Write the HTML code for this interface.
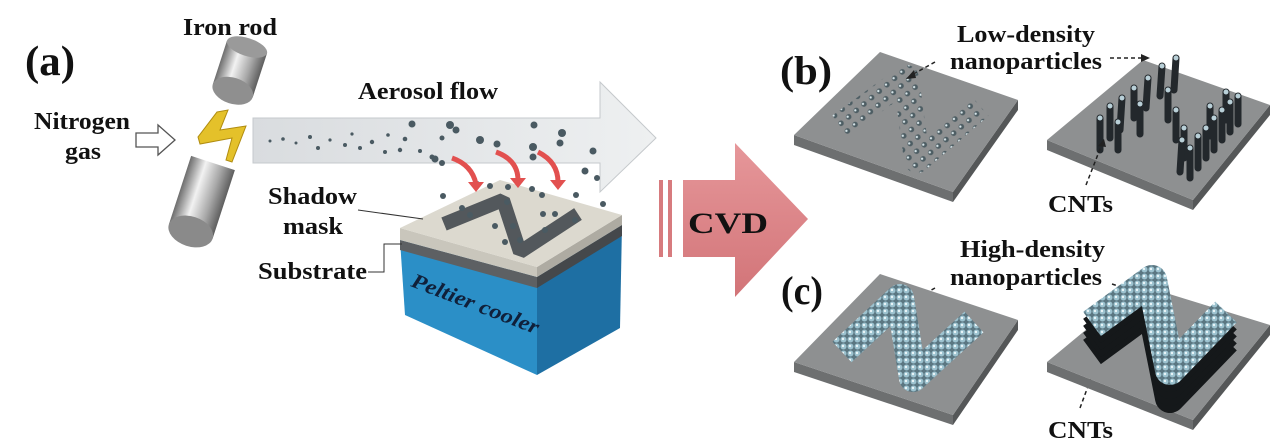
<!DOCTYPE html>
<html><head><meta charset="utf-8"><style>
html,body{margin:0;padding:0;background:#fff;}
svg{display:block;}
text{font-family:"Liberation Serif",serif;font-weight:bold;fill:#111;}
</style></head><body>
<svg width="1280" height="448" viewBox="0 0 1280 448" xmlns="http://www.w3.org/2000/svg">
<defs>
<linearGradient id="cyl" x1="0" x2="1" y1="0" y2="0">
<stop offset="0" stop-color="#6d6d6d"/><stop offset="0.35" stop-color="#f2f2f2"/><stop offset="0.7" stop-color="#a9a9a9"/><stop offset="1" stop-color="#5e5e5e"/></linearGradient>
<linearGradient id="aer" x1="0" x2="1" y1="0" y2="0">
<stop offset="0" stop-color="#d9dcdf"/><stop offset="1" stop-color="#eef0f1"/></linearGradient>
<linearGradient id="cvd" x1="0" x2="0" y1="0" y2="1">
<stop offset="0" stop-color="#e6979a"/><stop offset="1" stop-color="#d27478"/></linearGradient>
<pattern id="dense" width="7" height="7" patternUnits="userSpaceOnUse">
<rect width="7" height="7" fill="#5b7782"/><circle cx="3.5" cy="3.5" r="3" fill="#9cc2cf"/><circle cx="3" cy="3" r="1.2" fill="#eaf5f8"/></pattern>
<pattern id="sparse" width="10" height="10" patternUnits="userSpaceOnUse" patternTransform="rotate(-40)">
<circle cx="5" cy="5" r="2.8" fill="#4d5d63"/><circle cx="4.3" cy="4.3" r="1.2" fill="#d8e6ea"/></pattern>
</defs>

<!-- (a) -->
<text x="25" y="75" font-size="42" textLength="50" lengthAdjust="spacingAndGlyphs">(a)</text>
<text x="183" y="35" font-size="24" textLength="94" lengthAdjust="spacingAndGlyphs">Iron rod</text>
<text x="34" y="129" font-size="24" textLength="96" lengthAdjust="spacingAndGlyphs">Nitrogen</text>
<text x="65" y="159" font-size="24" textLength="36" lengthAdjust="spacingAndGlyphs">gas</text>
<path d="M136,133 H158 V125 L175,140 L158,155 V147 H136 Z" fill="#fff" stroke="#555" stroke-width="1.3"/>

<!-- rods -->
<g transform="translate(247,47) rotate(18)">
<rect x="-21" y="0" width="42" height="46" fill="url(#cyl)"/>
<ellipse cx="0" cy="0" rx="21" ry="9" fill="#9a9a9a"/>
<ellipse cx="0" cy="46" rx="21" ry="13" fill="#8f8f8f"/>
</g>
<g transform="translate(213,163) rotate(18)">
<rect x="-23" y="0" width="46" height="72" fill="url(#cyl)"/>
<ellipse cx="0" cy="72" rx="23" ry="15" fill="#8a8a8a"/>
</g>
<polygon points="217,112 228,110 220,130 246,126 232,162 226,160 232,138 200,144 198,137" fill="#e4c12a" stroke="#b08c10" stroke-width="1"/>

<!-- aerosol arrow -->
<polygon points="253,118 600,118 600,82 656,138 600,192 600,163 253,163" fill="url(#aer)" stroke="#c5c9cc" stroke-width="1"/>
<text x="358" y="99" font-size="24" textLength="140" lengthAdjust="spacingAndGlyphs">Aerosol flow</text>
<g fill="#4a5a62">
<circle cx="270" cy="141" r="1.5"/><circle cx="283" cy="139" r="1.8"/><circle cx="296" cy="143" r="1.5"/><circle cx="310" cy="137" r="2"/><circle cx="318" cy="148" r="2"/><circle cx="330" cy="140" r="1.6"/><circle cx="345" cy="145" r="2"/><circle cx="352" cy="134" r="1.6"/><circle cx="360" cy="148" r="2"/><circle cx="372" cy="142" r="2.2"/><circle cx="385" cy="152" r="2"/><circle cx="388" cy="135" r="1.8"/><circle cx="400" cy="150" r="2.2"/><circle cx="405" cy="139" r="2.3"/><circle cx="420" cy="151" r="2"/><circle cx="432" cy="157" r="2.5"/><circle cx="442" cy="138" r="2.5"/>
<circle cx="412" cy="124" r="3.5"/><circle cx="450" cy="125" r="4"/><circle cx="456" cy="130" r="3.5"/><circle cx="480" cy="140" r="4"/><circle cx="497" cy="144" r="3.5"/><circle cx="534" cy="125" r="3.5"/><circle cx="562" cy="133" r="4"/><circle cx="560" cy="143" r="3.5"/><circle cx="533" cy="147" r="4"/><circle cx="533" cy="157" r="3.5"/><circle cx="593" cy="151" r="3.5"/><circle cx="435" cy="159" r="3.5"/><circle cx="442" cy="163" r="3"/><circle cx="585" cy="171" r="3.5"/><circle cx="597" cy="178" r="3"/>
</g>

<!-- box -->
<polygon points="400,240 537,277 537,375 405,315" fill="#2b8fc7"/>
<polygon points="537,277 622,225 620,328 537,375" fill="#1e6fa3"/>
<polygon points="400,240 537,277 537,288 400,250" fill="#5d6063"/>
<polygon points="537,277 622,225 622,236 537,288" fill="#45484b"/>
<polygon points="400,228 537,267 537,277 400,240" fill="#c9c6bc"/>
<polygon points="537,267 622,215 622,225 537,277" fill="#aeaba2"/>
<polygon points="400,228 500,180 622,215 537,267" fill="#dcd9cf"/>
<polyline points="444,224 503,200 520,252 578,214" fill="none" stroke="#53585c" stroke-width="14" stroke-linejoin="bevel"/>
<g fill="#4a5a62">
<circle cx="462" cy="208" r="3"/><circle cx="470" cy="215" r="3"/><circle cx="507" cy="202" r="3"/><circle cx="513" cy="226" r="3"/><circle cx="495" cy="226" r="3"/><circle cx="520" cy="240" r="3"/><circle cx="505" cy="242" r="3"/><circle cx="545" cy="230" r="3"/><circle cx="575" cy="220" r="3"/><circle cx="543" cy="214" r="3"/><circle cx="542" cy="195" r="3"/><circle cx="555" cy="214" r="3"/><circle cx="443" cy="196" r="3"/><circle cx="490" cy="186" r="3"/><circle cx="508" cy="187" r="3"/><circle cx="532" cy="189" r="3"/><circle cx="576" cy="195" r="3"/><circle cx="603" cy="204" r="3"/><circle cx="477" cy="184" r="3"/>
</g>
<g fill="none" stroke="#e2504f" stroke-width="5">
<path d="M452,158 Q472,165 476,184"/><path d="M496,152 Q518,160 518,180"/><path d="M538,152 Q558,162 558,182"/>
</g>
<g fill="#e2504f">
<polygon points="468,182 484,182 476,192"/><polygon points="510,178 526,178 518,188"/><polygon points="550,180 566,180 558,190"/>
</g>
<text x="268" y="204" font-size="24" textLength="89" lengthAdjust="spacingAndGlyphs">Shadow</text>
<text x="283" y="234" font-size="24" textLength="60" lengthAdjust="spacingAndGlyphs">mask</text>
<path d="M358,210 L423,219" stroke="#333" stroke-width="1" fill="none"/>
<text x="258" y="279" font-size="24" textLength="109" lengthAdjust="spacingAndGlyphs">Substrate</text>
<path d="M368,272 H384 V244 H402" stroke="#333" stroke-width="1" fill="none"/>
<text transform="translate(410,286) rotate(21)" font-size="21" font-style="italic" style="fill:#10203a" textLength="135" lengthAdjust="spacingAndGlyphs">Peltier cooler</text>

<!-- CVD arrow -->
<rect x="659" y="180" width="4" height="77" fill="#d77b7e"/>
<rect x="668" y="180" width="4" height="77" fill="#d77b7e"/>
<polygon points="683,180 735,180 735,143 808,219 735,297 735,257 683,257" fill="url(#cvd)"/>
<text x="688" y="233" font-size="30" textLength="80" lengthAdjust="spacingAndGlyphs">CVD</text>

<!-- (b) -->
<text x="780" y="84" font-size="40" textLength="52" lengthAdjust="spacingAndGlyphs">(b)</text>
<text x="957" y="42" font-size="24" textLength="138" lengthAdjust="spacingAndGlyphs">Low-density</text>
<text x="950" y="69" font-size="24" textLength="152" lengthAdjust="spacingAndGlyphs">nanoparticles</text>
<polygon points="794,135 953,192 953,202 794,145" fill="#6d6f70"/>
<polygon points="953,192 1018,100 1018,110 953,202" fill="#555758"/>
<polygon points="794,135 880,52 1018,100 953,192" fill="#8e9091"/>
<polyline points="840,126 906,78 917,160 980,106" fill="none" stroke="url(#sparse)" stroke-width="26" stroke-linejoin="round"/>
<polygon points="1047,140 1193,200 1193,210 1047,150" fill="#6d6f70"/>
<polygon points="1193,200 1270,105 1270,115 1193,210" fill="#555758"/>
<polygon points="1047,140 1143,60 1270,105 1193,200" fill="#8e9091"/>
<g stroke="#23282c" stroke-width="7" stroke-linecap="round">
<line x1="1100" y1="150" x2="1100" y2="118"/><line x1="1110" y1="138" x2="1110" y2="106"/><line x1="1120" y1="130" x2="1122" y2="98"/><line x1="1134" y1="118" x2="1134" y2="88"/><line x1="1146" y1="108" x2="1148" y2="78"/><line x1="1160" y1="96" x2="1162" y2="66"/><line x1="1174" y1="90" x2="1176" y2="58"/>
<line x1="1118" y1="150" x2="1118" y2="122"/><line x1="1140" y1="134" x2="1140" y2="104"/>
<line x1="1168" y1="120" x2="1168" y2="90"/><line x1="1176" y1="140" x2="1176" y2="110"/><line x1="1184" y1="158" x2="1184" y2="128"/><line x1="1190" y1="178" x2="1190" y2="148"/><line x1="1180" y1="172" x2="1182" y2="140"/><line x1="1198" y1="168" x2="1198" y2="136"/>
<line x1="1206" y1="158" x2="1206" y2="128"/><line x1="1214" y1="150" x2="1214" y2="118"/><line x1="1222" y1="140" x2="1222" y2="110"/><line x1="1230" y1="132" x2="1230" y2="102"/><line x1="1238" y1="124" x2="1238" y2="96"/><line x1="1210" y1="136" x2="1210" y2="106"/><line x1="1226" y1="120" x2="1226" y2="92"/>
</g>
<g fill="#b9d0d8">
<circle cx="1100" cy="118" r="2.5"/><circle cx="1110" cy="106" r="2.5"/><circle cx="1122" cy="98" r="2.5"/><circle cx="1134" cy="88" r="2.5"/><circle cx="1148" cy="78" r="2.5"/><circle cx="1162" cy="66" r="2.5"/><circle cx="1176" cy="58" r="2.5"/><circle cx="1118" cy="122" r="2.5"/><circle cx="1140" cy="104" r="2.5"/><circle cx="1168" cy="90" r="2.5"/><circle cx="1176" cy="110" r="2.5"/><circle cx="1184" cy="128" r="2.5"/><circle cx="1190" cy="148" r="2.5"/><circle cx="1182" cy="140" r="2.5"/><circle cx="1198" cy="136" r="2.5"/><circle cx="1206" cy="128" r="2.5"/><circle cx="1214" cy="118" r="2.5"/><circle cx="1222" cy="110" r="2.5"/><circle cx="1230" cy="102" r="2.5"/><circle cx="1238" cy="96" r="2.5"/><circle cx="1210" cy="106" r="2.5"/><circle cx="1226" cy="92" r="2.5"/>
</g>
<text x="1048" y="212" font-size="24" textLength="65" lengthAdjust="spacingAndGlyphs">CNTs</text>
<g fill="none" stroke="#222" stroke-width="1.5" stroke-dasharray="4,3">
<path d="M935,62 L910,76"/><path d="M1110,58 L1145,58"/><path d="M1086,185 L1102,144"/>
<path d="M935,288 L910,302"/><path d="M1112,284 L1130,290"/><path d="M1080,408 L1094,370"/>
</g>
<g fill="#222">
<polygon points="906,79 914,70 916,78"/><polygon points="1150,58 1141,54 1141,62"/><polygon points="1104,139 1098,146 1106,147"/>
<polygon points="906,305 914,296 916,304"/><polygon points="1135,293 1126,287 1128,294"/><polygon points="1096,365 1090,372 1098,373"/>
</g>

<!-- (c) -->
<text x="781" y="304" font-size="40" textLength="42" lengthAdjust="spacingAndGlyphs">(c)</text>
<text x="960" y="257" font-size="24" textLength="145" lengthAdjust="spacingAndGlyphs">High-density</text>
<text x="950" y="285" font-size="24" textLength="152" lengthAdjust="spacingAndGlyphs">nanoparticles</text>
<polygon points="794,362 953,415 953,425 794,372" fill="#6d6f70"/>
<polygon points="953,415 1018,320 1018,330 953,425" fill="#555758"/>
<polygon points="794,362 880,274 1018,320 953,415" fill="#8e9091"/>
<polyline points="842,352 900,298 913,378 974,322" fill="none" stroke="url(#dense)" stroke-width="28" stroke-linejoin="round"/>

<polygon points="1047,362 1193,420 1193,430 1047,372" fill="#6d6f70"/>
<polygon points="1193,420 1270,325 1270,335 1193,430" fill="#555758"/>
<polygon points="1047,362 1140,285 1270,325 1193,420" fill="#8e9091"/>
<g fill="none" stroke="#15181a" stroke-width="30" stroke-linejoin="round">
<polyline points="1092,352 1152,308 1170,398 1226,340"/>
<polyline points="1092,345 1152,301 1170,391 1226,333"/>
<polyline points="1092,338 1152,294 1170,384 1226,326"/>
<polyline points="1092,331 1152,287 1170,377 1226,319"/>
</g>
<polyline points="1092,324 1152,280 1170,370 1226,312" fill="none" stroke="url(#dense)" stroke-width="30" stroke-linejoin="round"/>
<text x="1048" y="438" font-size="24" textLength="65" lengthAdjust="spacingAndGlyphs">CNTs</text>
</svg>
</body></html>
